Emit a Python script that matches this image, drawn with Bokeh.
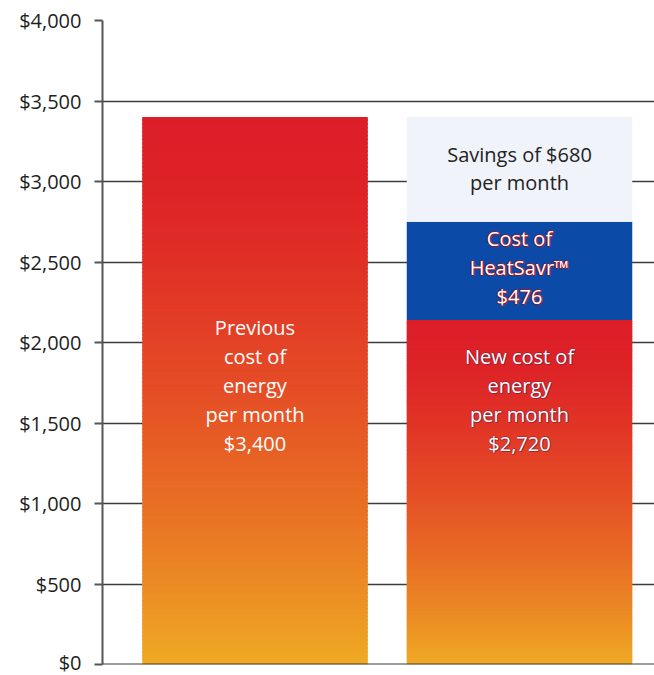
from bokeh.plotting import figure
from bokeh.models import Range1d, FixedTicker, Span
from bokeh.embed import file_html
from bokeh.resources import INLINE
from bokeh.core.properties import value
import numpy as np

# ---- data ----
categories = ["Previous", "New"]
previous_cost = 3400          # left bar height
new_energy_top = 2140         # top of gradient segment of right bar (as drawn)
heatsavr_top = 2750           # top of blue segment (as drawn)
savings_top = 3400            # top of light "savings" segment
tick_values = [0, 500, 1000, 1500, 2000, 2500, 3000, 3500, 4000]
tick_labels = ["$0", "$500", "$1,000", "$1,500", "$2,000", "$2,500", "$3,000", "$3,500", "$4,000"]
label_prev = "Previous\ncost of\nenergy\nper month\n$3,400"
label_new = "New cost of\nenergy\nper month\n$2,720"
label_heat = "Cost of\nHeatSavr\u2122\n$476"
label_save = "Savings of $680\nper month"

# ---- style ----
FONT = "Open Sans"
grad_stops = [  # fraction from bottom, rgb
    (0.00, (240, 170, 36)),
    (0.15, (235, 138, 36)),
    (0.30, (232, 110, 36)),
    (0.50, (229, 78, 38)),
    (0.70, (225, 52, 38)),
    (0.85, (222, 36, 39)),
    (1.00, (220, 30, 40)),
]

def grad_color(f):
    for (f0, c0), (f1, c1) in zip(grad_stops[:-1], grad_stops[1:]):
        if f <= f1:
            t = (f - f0) / (f1 - f0) if f1 > f0 else 0
            r, g, b = [int(round(a + (bb - a) * t)) for a, bb in zip(c0, c1)]
            return "#%02x%02x%02x" % (r, g, b)
    r, g, b = grad_stops[-1][1]
    return "#%02x%02x%02x" % (r, g, b)

p = figure(width=654, height=675, output_backend="svg", toolbar_location=None,
           x_range=Range1d(-0.0766, 2.0104), y_range=Range1d(0, 4000),
           min_border_left=102, min_border_right=0, min_border_top=20, min_border_bottom=11)
p.outline_line_color = None
p.background_fill_color = "white"
p.xaxis.visible = False
p.xgrid.visible = False

centers = [0.5, 1.5]
bw = 0.8526

def gradient_bar(xc, top, n=140):
    edges = np.linspace(0, top, n + 1)
    bottoms = edges[:-1]
    tops = edges[1:] + top * 0.004
    tops[-1] = top
    cols = [grad_color((b + t) / 2 / top) for b, t in zip(bottoms, tops)]
    p.quad(left=xc - bw / 2, right=xc + bw / 2, bottom=bottoms, top=tops,
           fill_color=cols, line_color=None)

gradient_bar(centers[0], previous_cost)
gradient_bar(centers[1], new_energy_top)
p.quad(left=centers[1] - bw / 2, right=centers[1] + bw / 2, bottom=new_energy_top,
       top=heatsavr_top, fill_color="#0b4aa6", line_color=None)
p.quad(left=centers[1] - bw / 2, right=centers[1] + bw / 2, bottom=heatsavr_top,
       top=savings_top, fill_color="#f0f3f9", line_color=None)

# labels
common = dict(text_font=value(FONT), text_font_size="20px", text_align="center",
              text_baseline="middle", text_line_height=1.07)

def shadowed(x, y, txt, shadow, alpha):
    for dx, dy in [(-1, 0), (1, 0), (0, -1), (0, 1), (1, 1)]:
        p.text(x=[x], y=[y], text=[txt], text_color=shadow, text_alpha=alpha,
               x_offset=dx, y_offset=dy, **common)
    p.text(x=[x], y=[y], text=[txt], text_color="white", **common)

p.text(x=[centers[0]], y=[1733], text=[label_prev], text_color="white", **common)
shadowed(centers[1], 1643, label_new, "#6a1a40", 0.35)
shadowed(centers[1], 2466, label_heat, "#a0141e", 0.8)
p.text(x=[centers[1]], y=[3081], text=[label_save], text_color="#222222", **common)

# axis & grid
ax = p.yaxis[0]
ax.ticker = FixedTicker(ticks=tick_values)
ax.major_label_overrides = {v: l for v, l in zip(tick_values, tick_labels)}
ax.major_label_text_font = FONT
ax.major_label_text_font_size = "20px"
ax.major_label_text_color = "#1e1e1e"
ax.major_label_standoff = 13
ax.axis_line_color = "#555555"
ax.axis_line_width = 2
ax.major_tick_line_color = "#555555"
ax.major_tick_line_width = 2
ax.major_tick_out = 8
ax.major_tick_in = 0
ax.minor_tick_line_color = None

p.ygrid.ticker = FixedTicker(ticks=tick_values)
p.ygrid.grid_line_color = "#3c3c3c"
p.ygrid.grid_line_width = 1.6

p.add_layout(Span(location=0, dimension="width", line_color="#3c3c3c", line_width=2))

open("out.html", "w").write(file_html(p, INLINE))
